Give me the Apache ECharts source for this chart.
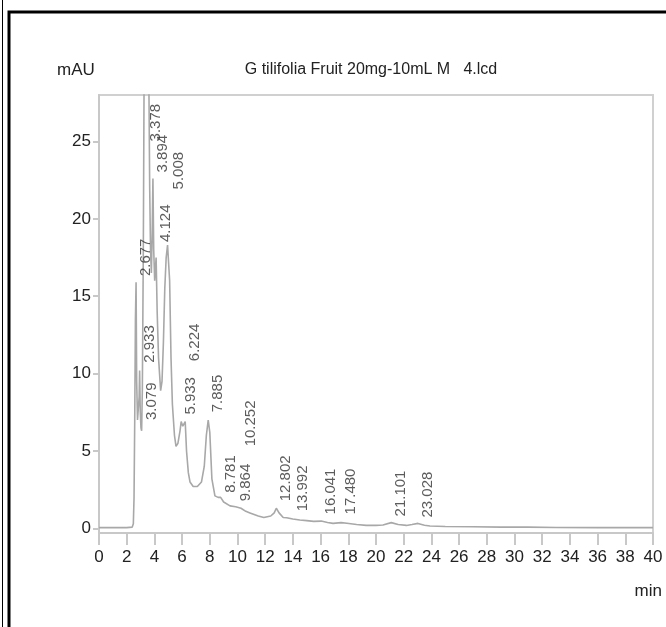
<!DOCTYPE html>
<html>
<head>
<meta charset="utf-8">
<script src="https://cdn.jsdelivr.net/npm/echarts@6/dist/echarts.min.js"></script>
<style>
html,body{margin:0;padding:0;background:#fff;}
#chart{width:666px;height:627px;}
</style>
</head>
<body>
<div id="chart"></div>
<script>
// Chromatogram trace (retention time in min, absorbance in mAU)
var traceTime = [0, 1, 2, 2.4, 2.48, 2.53, 2.58, 2.63, 2.677, 2.72, 2.78, 2.85, 2.9, 2.933, 2.98, 3.03, 3.079, 3.13, 3.2, 3.27, 3.378, 3.5, 3.6, 3.66, 3.72, 3.78, 3.84, 3.894, 3.95, 4.02, 4.124, 4.2, 4.3, 4.45, 4.55, 4.65, 4.75, 4.85, 4.95, 5.008, 5.1, 5.2, 5.3, 5.45, 5.56, 5.7, 5.85, 5.933, 6.05, 6.15, 6.224, 6.32, 6.45, 6.57, 6.8, 7.1, 7.4, 7.6, 7.75, 7.885, 8.0, 8.15, 8.37, 8.6, 8.781, 9.0, 9.46, 9.864, 10.0, 10.252, 10.6, 10.9, 11.5, 11.9, 12.4, 12.65, 12.802, 13.0, 13.3, 13.55, 13.992, 14.5, 15.0, 15.5, 16.041, 16.5, 16.9, 17.48, 17.9, 18.6, 19.3, 20.0, 20.5, 21.101, 21.6, 22.2, 22.6, 23.028, 23.5, 23.9, 25, 27, 29, 31, 33, 36, 40];
var traceValue = [0.05, 0.05, 0.05, 0.08, 0.3, 2.0, 7.0, 13.5, 15.9, 9.5, 7.0, 6.9, 8.5, 10.2, 7.5, 6.5, 6.3, 9.0, 18.0, 32.0, 45.0, 40.0, 29.0, 22.0, 18.0, 16.5, 19.0, 22.6, 18.0, 16.0, 17.5, 14.0, 11.0, 8.9, 9.5, 12.0, 15.5, 17.5, 18.3, 18.2, 16.0, 11.0, 8.0, 6.0, 5.3, 5.5, 6.3, 6.9, 6.6, 6.7, 6.9, 5.0, 3.6, 3.0, 2.7, 2.7, 3.0, 4.0, 6.0, 7.0, 6.2, 3.2, 2.1, 2.0, 2.0, 1.7, 1.45, 1.4, 1.35, 1.3, 1.1, 1.0, 0.8, 0.7, 0.8, 1.0, 1.3, 1.0, 0.7, 0.69, 0.6, 0.54, 0.5, 0.45, 0.47, 0.38, 0.32, 0.37, 0.33, 0.25, 0.19, 0.19, 0.22, 0.37, 0.25, 0.19, 0.25, 0.32, 0.2, 0.15, 0.12, 0.1, 0.08, 0.08, 0.06, 0.05, 0.05];

// Peak labels: retention time text and the height (mAU) where each label starts
var peakTimes = ["2.677", "2.933", "3.079", "3.378", "3.894", "4.124", "5.008", "5.933", "6.224", "7.885", "8.781", "9.864", "10.252", "12.802", "13.992", "16.041", "17.480", "21.101", "23.028"];
var peakLabelBase = [16.3, 10.7, 7.0, 25.0, 23.0, 18.5, 21.9, 7.35, 10.8, 7.5, 2.3, 1.75, 5.3, 1.75, 1.1, 0.9, 0.9, 0.77, 0.7];

// Axis ticks
var xTicks = [0, 2, 4, 6, 8, 10, 12, 14, 16, 18, 20, 22, 24, 26, 28, 30, 32, 34, 36, 38, 40];
var yTicks = [0, 5, 10, 15, 20, 25];

var titleText = "G tilifolia Fruit 20mg-10mL M   4.lcd";

var lineData = traceTime.map(function (t, i) { return [t, traceValue[i]]; });
var labelData = peakTimes.map(function (s, i) { return [parseFloat(s), peakLabelBase[i], s]; });

var FONT = "'Liberation Sans', Arial, sans-serif";
var chart = echarts.init(document.getElementById('chart'), null, {renderer: 'canvas'});
chart.setOption({
  backgroundColor: '#ffffff',
  animation: false,
  title: {
    text: titleText,
    left: 366, top: 57, textAlign: 'center',
    textStyle: {fontFamily: FONT, fontSize: 16, fontWeight: 'normal', color: '#222'}
  },
  grid: {left: 99, top: 95, right: 13, bottom: 94, show: true, borderColor: '#d0d0d0', borderWidth: 2, backgroundColor: 'transparent'},
  xAxis: {
    type: 'value', min: 0, max: 40, interval: 2,
    axisLine: {show: true, onZero: false, lineStyle: {color: '#c8c8c8', width: 2}},
    axisTick: {show: true, length: 12, lineStyle: {color: '#c8c8c8', width: 2}, customValues: xTicks},
    axisLabel: {customValues: xTicks, margin: 16, color: '#222', fontFamily: FONT, fontSize: 17, hideOverlap: false},
    splitLine: {show: false}
  },
  yAxis: {
    type: 'value', min: -0.3, max: 28,
    axisLine: {show: true, lineStyle: {color: '#c8c8c8', width: 2}},
    axisTick: {show: true, length: 6, lineStyle: {color: '#c8c8c8', width: 2}, customValues: yTicks},
    axisLabel: {customValues: yTicks, margin: 8, color: '#222', fontFamily: FONT, fontSize: 17},
    splitLine: {show: false}
  },
  graphic: [
    {type: 'rect', shape: {x: 2, y: -5, width: 1, height: 640}, style: {fill: '#000'}},
    {type: 'polyline', shape: {points: [[9, 640], [9, 12], [680, 12]]}, style: {stroke: '#000', lineWidth: 3, fill: null}},
    {type: 'text', left: 57, top: 62, style: {text: 'mAU', fontFamily: FONT, fontSize: 17, fill: '#222'}},
    {type: 'text', right: 4, top: 583, style: {text: 'min', fontFamily: FONT, fontSize: 17, fill: '#222'}}
  ],
  series: [
    {
      type: 'line', data: lineData, showSymbol: false, clip: true,
      lineStyle: {color: '#a8a8a8', width: 1.6}, z: 2
    },
    {
      type: 'scatter', data: labelData, symbolSize: 0, z: 3,
      label: {
        show: true, position: [10, 0], rotate: 90, align: 'left', verticalAlign: 'middle',
        formatter: function (p) { return p.value[2]; },
        fontFamily: FONT, fontSize: 15, color: '#333'
      }
    }
  ]
});
</script>
</body>
</html>
